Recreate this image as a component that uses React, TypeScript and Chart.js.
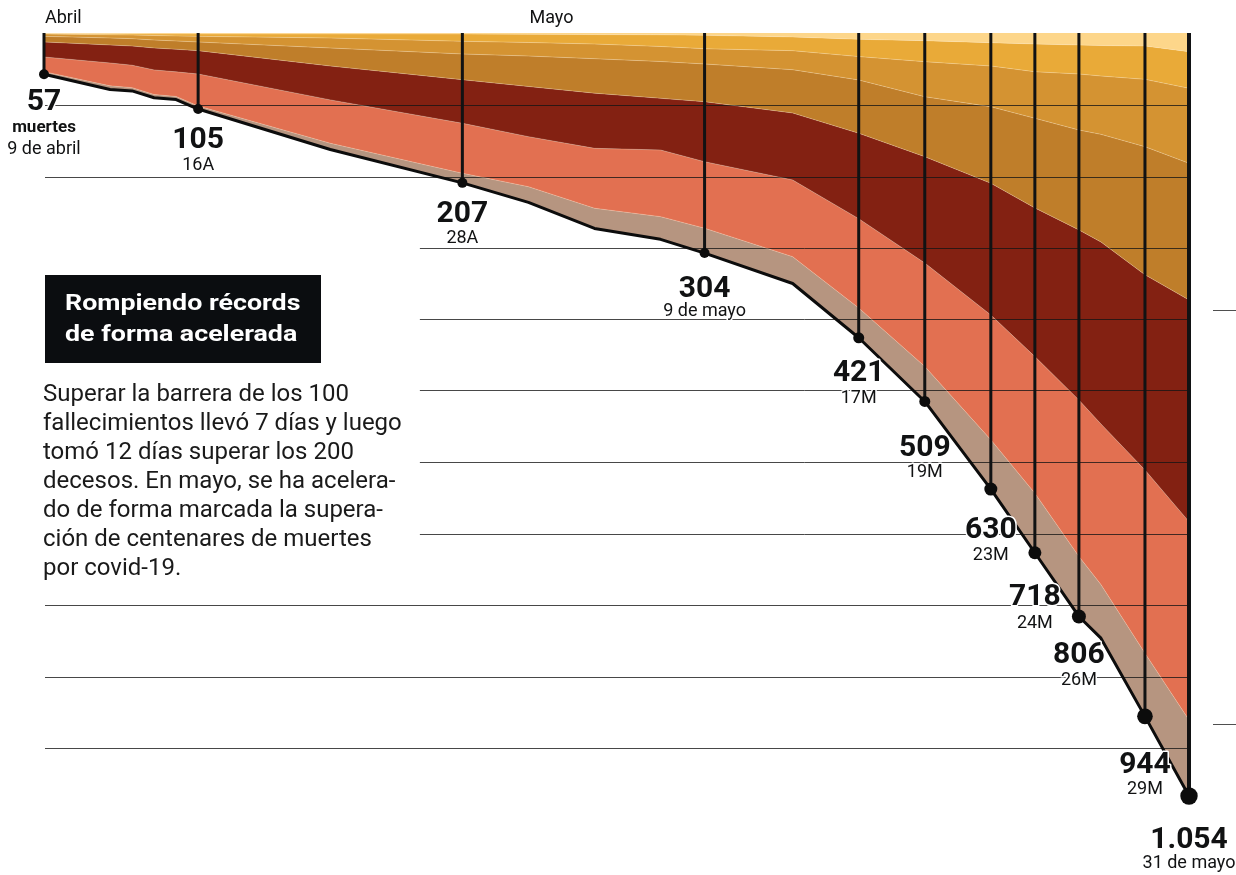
import { useEffect, useRef } from 'react';
import { Chart, registerables } from 'chart.js';

Chart.register(...registerables);

// ---------- DATA ----------
// days counted from 9 April (0) to 31 May (52)
const days = [0, 3, 4, 5, 6, 7, 13, 19, 22, 25, 28, 30, 34, 37, 40, 43, 45, 47, 48, 50, 52];

// stacked layers, from the top of the chart (0) downwards
const layer1 = [0.7, 1.1, 1.2, 1.4, 1.4, 1.4, 1.4, 1.4, 1.8, 2.2, 2.5, 3.2, 5.5, 8.7, 10.6, 13.4, 15.2, 16.6, 17.3, 18, 25.8];
const layer2 = [0.7, 1.4, 1.6, 2.1, 2.6, 3.2, 5.5, 10.1, 11.3, 13, 16.1, 18.5, 18.9, 23.9, 29, 32.2, 38.3, 40, 42.1, 46, 50.6];
const layer3 = [3.2, 4.4, 5, 6.2, 7, 7.8, 13.8, 17.5, 18.7, 20.3, 20.8, 21.1, 26.3, 32.3, 48.4, 56.2, 64.3, 77.4, 80.6, 93, 103.6];
const layer4 = [7.8, 9.7, 10.2, 11, 11.5, 12, 24.9, 35.5, 42.1, 47.6, 50.8, 52.1, 59.8, 73.6, 82.9, 105.8, 123.9, 138, 148.7, 177, 188.8];
const layer5 = [20.7, 24.8, 26.5, 30.3, 31.2, 32.2, 46.8, 60.2, 69.3, 76.2, 71.4, 82.9, 92.5, 118, 146.8, 181.9, 205.3, 235, 251.3, 269.6, 306.2];
const layer6 = [20.4, 31.6, 31, 34, 34, 44.2, 59.9, 69.1, 69.1, 82.8, 92.1, 91.9, 106, 123.3, 142.9, 172.5, 188.8, 216, 222, 253.2, 274];
const layer7 = [3.5, 5, 4.5, 4.5, 4.3, 4.2, 8.7, 13.2, 21.7, 27.9, 31.3, 34.3, 37, 41.2, 48.4, 68, 82.2, 83, 74, 87.2, 105];

const layerNames = ['Grupo 1', 'Grupo 2', 'Grupo 3', 'Grupo 4', 'Grupo 5', 'Grupo 6', 'Grupo 7'];

// milestones (total deaths)
const milestoneDays = [0, 7, 19, 30, 37, 40, 43, 45, 47, 50, 52];
const milestoneTotals = [57, 105, 207, 304, 421, 509, 630, 718, 806, 944, 1054];
const milestoneDates = ['9 de abril', '16A', '28A', '9 de mayo', '17M', '19M', '23M', '24M', '26M', '29M', '31 de mayo'];
const milestoneUnit = 'muertes';

const monthNames = ['Abril', 'Mayo'];
const monthStartDays = [0, 22];

const gridValues = [99, 199, 297, 395, 493, 593, 692, 790, 890, 988];
const sideMarkValues = [382, 954];

const X_MAX = 52;
const Y_MAX = 1054;

// ---------- STYLE / LAYOUT ----------
const layerColors = ['#fdd68a', '#e9aa38', '#d49332', '#bf7e2a', '#832112', '#e27051', '#b69580'];
const dotRadius = [5, 5, 5, 5, 5.5, 5.5, 6.5, 6.5, 7, 7.8, 8.7];
const numDy = [35.7, 39, 38.8, 43.6, 43.2, 54.5, 49, 52, 46.5, 56.6, 52];
const dateDy = [79.7, 61, 60, 63, 65, 75.5, 71, 75, 68.5, 77.6, 72];
const unitDy = 57.7;
const insetGridRows = [2, 3, 4, 5, 6];
const GRID_INSET_DAY = 17.07;
const INK = '#111213';
const FONT = 'Roboto, "Noto Sans", sans-serif';

function fmt(n: number): string {
  if (n >= 1000) return Math.floor(n / 1000) + '.' + String(n % 1000).padStart(3, '0');
  return String(n);
}

const DOT_INDEX = 7;

const overlayPlugin = {
  id: 'overlay',
  beforeDatasetsDraw(chart: any) {
    const { ctx, chartArea, scales } = chart;
    const xs = scales.x;
    const ys = scales.y;
    ctx.save();
    ctx.strokeStyle = 'rgba(20,20,20,0.78)';
    ctx.lineWidth = 1;
    gridValues.forEach((v, i) => {
      const y = Math.round(ys.getPixelForValue(v)) + 0.5;
      const x0 = insetGridRows.includes(i) ? xs.getPixelForValue(GRID_INSET_DAY) : chartArea.left + 1;
      ctx.beginPath();
      ctx.moveTo(x0, y);
      ctx.lineTo(chartArea.right, y);
      ctx.stroke();
    });
    ctx.restore();
  },
  beforeDatasetDraw(chart: any, args: any) {
    if (args.index !== DOT_INDEX) return;
    const { ctx, scales } = chart;
    const xs = scales.x;
    const ys = scales.y;
    ctx.save();
    ctx.strokeStyle = INK;
    milestoneDays.forEach((d, i) => {
      const x = xs.getPixelForValue(d);
      ctx.lineWidth = i === milestoneDays.length - 1 ? 4 : 3;
      ctx.beginPath();
      ctx.moveTo(x, ys.getPixelForValue(0));
      ctx.lineTo(x, ys.getPixelForValue(milestoneTotals[i]));
      ctx.stroke();
    });
    ctx.restore();
  },
  afterDatasetsDraw(chart: any) {
    const { ctx, chartArea, scales } = chart;
    const xs = scales.x;
    const ys = scales.y;
    ctx.save();
    // months
    ctx.fillStyle = INK;
    ctx.font = `18px ${FONT}`;
    ctx.textAlign = 'left';
    ctx.textBaseline = 'alphabetic';
    monthNames.forEach((m, i) => {
      ctx.fillText(m, xs.getPixelForValue(monthStartDays[i]) + 1, chartArea.top - 10);
    });
    // side marks
    ctx.strokeStyle = 'rgba(20,20,20,0.75)';
    ctx.lineWidth = 1;
    sideMarkValues.forEach((v) => {
      const y = Math.round(ys.getPixelForValue(v)) + 0.5;
      ctx.beginPath();
      ctx.moveTo(chartArea.right + 24, y);
      ctx.lineTo(chart.width, y);
      ctx.stroke();
    });
    // milestone labels
    ctx.textAlign = 'center';
    ctx.lineJoin = 'round';
    const halo = (text: string, x: number, y: number, w: number) => {
      ctx.strokeStyle = '#ffffff';
      ctx.lineWidth = w;
      ctx.strokeText(text, x, y);
      ctx.fillStyle = INK;
      ctx.fillText(text, x, y);
    };
    milestoneDays.forEach((d, i) => {
      const x = xs.getPixelForValue(d);
      const y = ys.getPixelForValue(milestoneTotals[i]);
      ctx.font = `bold 30px ${FONT}`;
      halo(fmt(milestoneTotals[i]), x, y + numDy[i], 3);
      if (i === 0) {
        ctx.font = `bold 17px ${FONT}`;
        halo(milestoneUnit, x, y + unitDy, 3);
      }
      ctx.font = `18px ${FONT}`;
      halo(milestoneDates[i], x, y + dateDy[i], 3);
    });
    ctx.restore();
  },
};

export default function App() {
  const ref = useRef<HTMLCanvasElement>(null);

  useEffect(() => {
    document.body.style.margin = '0';
    const canvas = ref.current;
    if (!canvas) return;
    const layers = [layer1, layer2, layer3, layer4, layer5, layer6, layer7];
    const datasets: any[] = layers.map((vals, i) => ({
      label: layerNames[i],
      data: days.map((d, j) => ({ x: d, y: vals[j] })),
      backgroundColor: layerColors[i],
      borderColor: i === 6 ? '#0c0c0c' : 'rgba(255,236,205,0.35)',
      borderWidth: i === 6 ? 3 : 0.8,
      borderJoinStyle: 'round',
      fill: i === 0 ? 'origin' : '-1',
      pointRadius: 0,
      tension: 0,
      stack: 'capas',
      order: 1,
      clip: false,
    }));
    datasets.push({
      label: 'Hitos',
      data: milestoneDays.map((d, i) => ({ x: d, y: milestoneTotals[i] })),
      showLine: false,
      fill: false,
      pointRadius: dotRadius,
      pointBackgroundColor: '#0c0c0c',
      pointBorderWidth: 0,
      stack: 'hitos',
      order: 0,
      clip: false,
    });

    const chart = new Chart(canvas, {
      type: 'line',
      data: { datasets },
      options: {
        responsive: false,
        animation: false,
        layout: { padding: { left: 44, right: 47, top: 33, bottom: 79 } },
        scales: {
          x: { type: 'linear', min: 0, max: X_MAX, display: false },
          y: { type: 'linear', min: 0, max: Y_MAX, reverse: true, stacked: true, display: false },
        },
        plugins: {
          legend: { display: false },
          tooltip: { enabled: false },
          filler: { drawTime: 'beforeDatasetsDraw' },
        } as any,
        events: [],
      },
      plugins: [overlayPlugin as any],
    });
    return () => chart.destroy();
  }, []);

  return (
    <div style={{ position: 'relative', width: 1236, height: 875, fontFamily: FONT, overflow: 'hidden' }}>
      <canvas
        ref={ref}
        width={1236}
        height={875}
        style={{ position: 'absolute', left: 0, top: 0, width: 1236, height: 875 }}
      />
      <div
        style={{
          position: 'absolute',
          left: 45,
          top: 275,
          width: 276,
          height: 88,
          boxSizing: 'border-box',
          background: '#0b0d10',
          padding: '11.5px 0 0 20px',
        }}
      >
        <div
          style={{
            color: '#ffffff',
            fontWeight: 700,
            fontSize: 22.5,
            lineHeight: '31.7px',
            whiteSpace: 'nowrap',
            transform: 'scaleX(1.19)',
            transformOrigin: 'left top',
          }}
        >
          Rompiendo récords
          <br />
          de forma acelerada
        </div>
      </div>
      <div
        style={{
          position: 'absolute',
          left: 43,
          top: 379.3,
          color: '#1a1a1a',
          fontSize: 23,
          lineHeight: '29px',
          whiteSpace: 'nowrap',
          transform: 'scaleX(1.044)',
          transformOrigin: 'left top',
        }}
      >
        Superar la barrera de los 100
        <br />
        fallecimientos llevó 7 días y luego
        <br />
        tomó 12 días superar los 200
        <br />
        decesos. En mayo, se ha acelera-
        <br />
        do de forma marcada la supera-
        <br />
        ción de centenares de muertes
        <br />
        por covid-19.
      </div>
    </div>
  );
}
